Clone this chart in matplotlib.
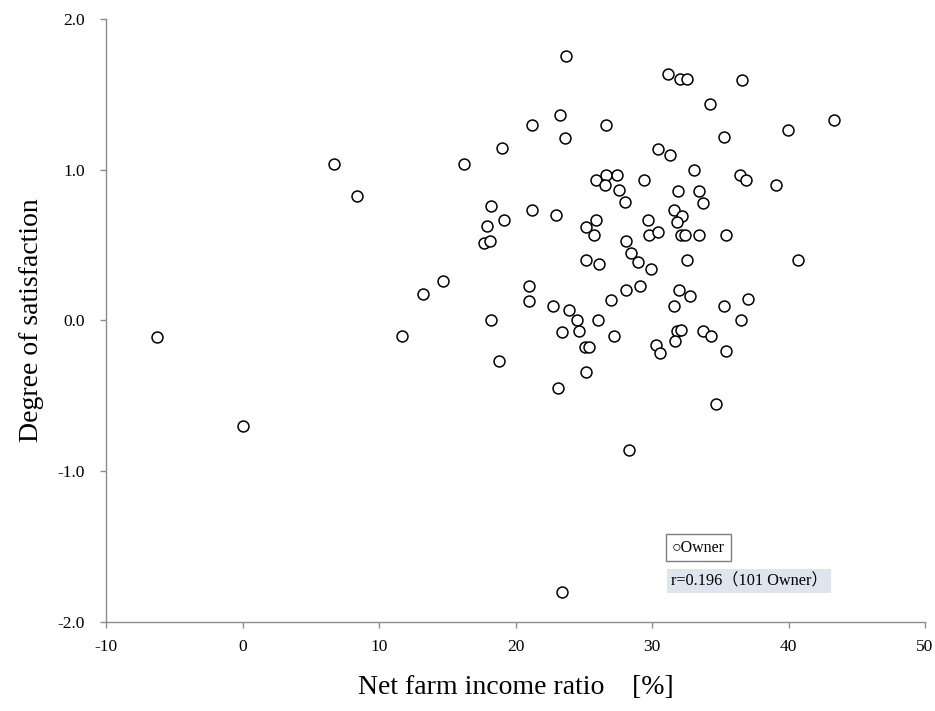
import matplotlib.pyplot as plt
import numpy as np

# net farm income ratio [%] and degree of satisfaction, 101 owners
income_ratio = [
    -6.26, 0.04, 6.68, 8.41, 11.66, 13.2, 14.69, 16.25, 17.7, 18.13,
    17.9, 18.2, 18.18, 18.79, 19.14, 19.03, 21.23, 21.18, 20.96, 20.96,
    22.75, 22.97, 23.13, 23.24, 23.4, 23.6, 23.7, 23.4, 23.94, 24.54,
    24.65, 25.2, 25.16, 25.07, 25.4, 25.2, 25.73, 25.87, 25.87, 26.04,
    26.14, 26.65, 26.6, 26.57, 26.97, 27.24, 27.46, 27.56, 28.05, 28.12,
    28.1, 28.49, 28.34, 28.96, 29.14, 29.4, 29.73, 29.78, 29.95, 30.44,
    30.44, 30.3, 30.56, 31.15, 31.3, 31.62, 31.87, 32.2, 31.85, 31.95,
    31.58, 31.8, 32.16, 31.68, 32.05, 32.6, 32.1, 32.4, 32.54, 32.8,
    33.1, 33.44, 33.7, 33.47, 33.71, 34.27, 34.32, 34.66, 35.25, 35.42,
    35.25, 35.42, 36.57, 36.45, 36.86, 36.54, 37.06, 39.08, 39.96, 40.7,
    43.3,
]
satisfaction = [
    -0.107, -0.70, 1.036, 0.826, -0.103, 0.174, 0.264, 1.036, 0.516, 0.529,
    0.627, 0.757, 0.0, -0.267, 0.669, 1.144, 1.30, 0.733, 0.231, 0.131,
    0.098, 0.702, -0.448, 1.365, -0.074, 1.21, 1.757, -1.80, 0.068, 0.0,
    -0.07, 0.62, 0.40, -0.176, -0.176, -0.344, 0.569, 0.667, 0.932, 0.0,
    0.377, 1.30, 0.965, 0.899, 0.134, -0.105, 0.965, 0.866, 0.786, 0.529,
    0.202, 0.446, -0.86, 0.386, 0.231, 0.934, 0.669, 0.569, 0.344, 0.587,
    1.138, -0.165, -0.213, 1.633, 1.10, 0.733, 0.861, 0.693, 0.655, 0.202,
    0.098, -0.07, -0.063, -0.138, 1.60, 1.60, 0.569, 0.569, 0.40, 0.165,
    0.998, 0.861, 0.777, 0.569, -0.07, 1.436, -0.103, -0.552, 1.215, 0.569,
    0.098, -0.202, 1.597, 0.965, 0.932, 0.0, 0.143, 0.899, 1.264, 0.40,
    1.332,
]
x_ticks = [-10, 0, 10, 20, 30, 40, 50]
y_ticks = [-2.0, -1.0, 0.0, 1.0, 2.0]
legend_label = "○Owner"
corr_label = "r=0.196（101 Owner）"

serif = ['Liberation Serif', 'Noto Sans CJK JP', 'DejaVu Sans']
plt.rcParams['font.family'] = serif
plt.rcParams['axes.unicode_minus'] = False

fig = plt.figure(figsize=(9.35, 7.11), dpi=100)
ax = fig.add_axes([0.1134, 0.1252, 0.8759, 0.8481])

ax.scatter(income_ratio, satisfaction, s=62, facecolors='white',
           edgecolors='black', linewidths=1.1, zorder=3)

ax.set_xlim(-10, 50)
ax.set_ylim(-2.0, 2.0)
ax.set_xticks(x_ticks)
ax.set_yticks(y_ticks)
ax.set_yticklabels([f"{v:.1f}" for v in y_ticks])

for side in ['top', 'right']:
    ax.spines[side].set_visible(False)
for side in ['left', 'bottom']:
    ax.spines[side].set_color('#8c8c8c')
    ax.spines[side].set_linewidth(1.0)
ax.tick_params(direction='out', length=4, width=1.0, color='#8c8c8c',
               labelsize=12.5)
ax.tick_params(axis='y', pad=11)
ax.tick_params(axis='x', pad=8)

ax.set_xlabel("Net farm income ratio　[%]", fontsize=20, labelpad=15)
ax.set_ylabel("Degree of satisfaction", fontsize=20, labelpad=10)

ax.text(0.691, 0.123, legend_label, transform=ax.transAxes, fontsize=11.5,
        va='center', ha='left',
        bbox=dict(boxstyle='square,pad=0.35', facecolor='white',
                  edgecolor='#7f7f7f', linewidth=1.0))
ax.text(0.6895, 0.068, corr_label, transform=ax.transAxes, fontsize=11.7,
        va='center', ha='left',
        bbox=dict(boxstyle='square,pad=0.25', facecolor='#dfe5ef',
                  edgecolor='none'))

fig.savefig('out.png', dpi=100)
